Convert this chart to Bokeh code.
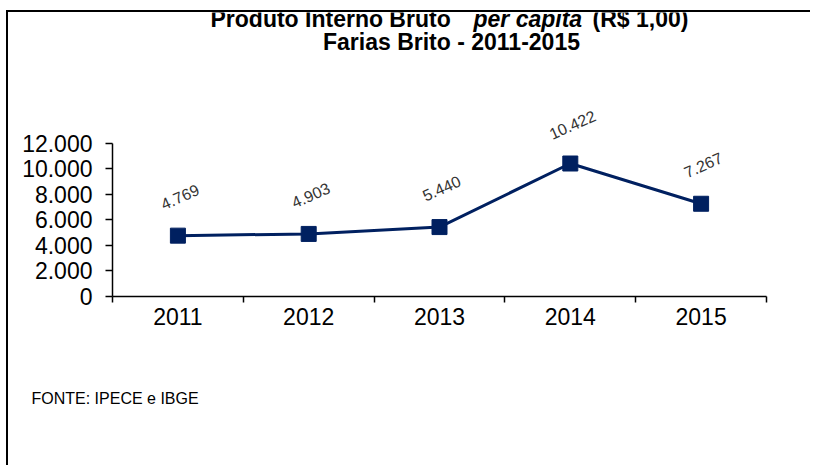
from bokeh.plotting import figure
from bokeh.models import Range1d, FixedTicker, Label, ColumnDataSource, Title
from bokeh.core.properties import value
from bokeh.embed import file_html
from bokeh.resources import INLINE
import math

# ---- data ----
years = ["2011", "2012", "2013", "2014", "2015"]
pib_per_capita = [4769, 4903, 5440, 10422, 7267]
y_ticks = [0, 2000, 4000, 6000, 8000, 10000, 12000]
y_max = 12000

def br(v):
    return f"{v:,}".replace(",", ".")

labels = [br(v) for v in pib_per_capita]
n = len(years)
centers = [i + 0.5 for i in range(n)]  # category centers on a 0..n axis

FONT = "Liberation Sans"
NAVY = "#002060"

# canvas geometry (canvas is shifted by CSS margin+border on the page)
W, H = 804, 455
FL, FR = 104, 758          # frame left/right (canvas px)
Y12, FB = 141, 306         # y of 12.000 and of 0 (canvas px)
y_top = y_max * FB / (FB - Y12)   # frame reaches the top of the canvas

p = figure(width=W, height=H, x_range=Range1d(0, n), y_range=Range1d(0, y_top),
           output_backend="svg", toolbar_location=None,
           min_border_left=FL, min_border_right=W - FR, min_border_top=0,
           min_border_bottom=H - FB)
p.outline_line_color = None
p.xgrid.grid_line_color = None
p.ygrid.grid_line_color = None
p.background_fill_color = "white"
p.border_fill_color = "white"
p.styles = {"border-top": "2px solid black", "border-left": "2px solid black",
            "margin-left": "6px", "margin-top": "10px"}

# y axis
ya = p.yaxis[0]
ya.bounds = (0, y_max)
ya.ticker = FixedTicker(ticks=y_ticks)
ya.major_label_overrides = {t: br(t) for t in y_ticks}
ya.major_label_text_font = FONT
ya.major_label_text_font_size = "23px"
ya.major_label_text_color = "black"
ya.major_tick_out = 7
ya.major_tick_in = 0
ya.minor_tick_line_color = None
ya.axis_line_color = "black"
ya.axis_line_width = 1.5
ya.major_tick_line_width = 1.5
ya.major_label_standoff = 13

# x axis: labels at category centers, tick marks at category boundaries
xa = p.xaxis[0]
xa.ticker = FixedTicker(ticks=centers, minor_ticks=list(range(n + 1)))
xa.major_label_overrides = {c: y for c, y in zip(centers, years)}
xa.major_tick_line_color = None
xa.minor_tick_out = 6
xa.minor_tick_in = 0
xa.minor_tick_line_color = "black"
xa.minor_tick_line_width = 1.5
xa.axis_line_color = "black"
xa.axis_line_width = 1.5
xa.major_label_text_font = FONT
xa.major_label_text_font_size = "23px"
xa.major_label_text_color = "black"
xa.major_label_standoff = 5

src = ColumnDataSource(dict(x=centers, y=pib_per_capita, lab=labels))
p.line("x", "y", source=src, line_color=NAVY, line_width=3)
p.scatter("x", "y", source=src, marker="square", size=15, fill_color=NAVY,
          line_color=NAVY)
p.text("x", "y", text="lab", source=src, angle=math.radians(24),
       text_align="center", text_baseline="middle", x_offset=2, y_offset=-39,
       text_font=value(FONT), text_font_size="16px", text_color="#333333")

# title (screen units: from frame left, from x-axis upward)
def lab(txt, x, y, style="bold", align="left", size="23px"):
    p.add_layout(Label(x=x, y=y, x_units="screen", y_units="screen", text=txt,
                       text_font=FONT, text_font_size=size, text_font_style=style,
                       text_align=align, text_baseline="middle", text_color="black"))

lab("Produto Interno Bruto", 98, 278)
lab("per capita", 361, 278, style="bold italic")
lab("(R$ 1,00)", 480, 278)
lab("Farias Brito - 2011-2015", 339, 255, align="center")

# source note
p.add_layout(Title(text="FONTE: IPECE e IBGE", align="left", offset=-81, standoff=121,
                   text_font=FONT, text_font_size="16px", text_font_style="normal",
                   text_color="black"), "below")

open("out.html", "w").write(file_html(p, INLINE))
